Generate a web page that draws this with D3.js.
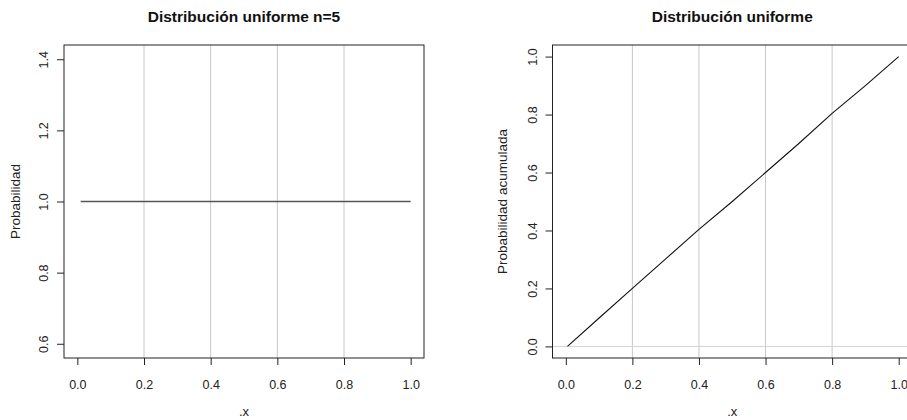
<!DOCTYPE html>
<html>
<head>
<meta charset="utf-8">
<script src="https://cdn.jsdelivr.net/npm/d3@7"></script>
<style>
  body { margin: 0; background: #fff; }
  svg { display: block; font-family: "Liberation Sans", Arial, Helvetica, sans-serif; }
</style>
</head>
<body>
<svg id="chart" width="907" height="420"></svg>
<script>
// Density of a uniform distribution on [0, 1]
const densityX = [0.01, 1.0];
const densityY = [1.0, 1.0];

// Cumulative probability of the same uniform distribution
const cdfX = [0.005, 0.1, 0.2, 0.3, 0.4, 0.5, 0.6, 0.7, 0.8, 0.9, 1.0];
const cdfY = [0.0, 0.098, 0.2, 0.302, 0.404, 0.5, 0.6, 0.7, 0.804, 0.9, 1.0];

const xTicks = [0, 0.2, 0.4, 0.6, 0.8, 1.0];
const xGrid = [0.2, 0.4, 0.6, 0.8];
const densityTicks = [0.6, 0.8, 1.0, 1.2, 1.4];
const cdfTicks = [0.0, 0.2, 0.4, 0.6, 0.8, 1.0];
const cdfGridY = [0.0];

const titles = ["Distribución uniforme n=5", "Distribución uniforme"];
const yLabels = ["Probabilidad", "Probabilidad acumulada"];
const xLabel = ".x";

const svg = d3.select("#chart");
const fmt = d3.format(".1f");

function panel(opts) {
  const { left, right, top, bottom, xDom, yDom, yTicks, gridX, gridY,
          xs, ys, lineColor, lineWidth, title, yLabel, yLabelX } = opts;
  const x = d3.scaleLinear().domain(xDom).range([left, right]);
  const y = d3.scaleLinear().domain(yDom).range([bottom, top]);
  const g = svg.append("g");

  // grid lines
  g.selectAll(".gx").data(gridX).join("line")
    .attr("x1", d => x(d)).attr("x2", d => x(d))
    .attr("y1", top).attr("y2", bottom)
    .attr("stroke", "#c8c8c8").attr("stroke-width", 1);
  g.selectAll(".gy").data(gridY).join("line")
    .attr("x1", left).attr("x2", right)
    .attr("y1", d => y(d)).attr("y2", d => y(d))
    .attr("stroke", "#d3d3d3").attr("stroke-width", 1);

  // data line
  const pts = xs.map((v, i) => [v, ys[i]]);
  g.append("path")
    .datum(pts)
    .attr("fill", "none")
    .attr("stroke", lineColor)
    .attr("stroke-width", lineWidth)
    .attr("d", d3.line().x(d => x(d[0])).y(d => y(d[1])));

  // plot frame
  g.append("rect")
    .attr("x", left).attr("y", top)
    .attr("width", right - left).attr("height", bottom - top)
    .attr("fill", "none").attr("stroke", "#222").attr("stroke-width", 1);

  // bottom axis
  const xa = g.append("g").attr("transform", `translate(0,${bottom})`)
    .call(d3.axisBottom(x).tickValues(xTicks).tickFormat(fmt).tickSize(7));
  xa.select(".domain").remove();
  xa.selectAll(".tick line").attr("stroke", "#222");
  xa.selectAll(".tick text")
    .attr("y", 31).attr("dy", null)
    .attr("font-size", 12.5).attr("fill", "#222");

  // left axis with rotated labels
  const ya = g.append("g").attr("transform", `translate(${left},0)`)
    .call(d3.axisLeft(y).tickValues(yTicks).tickFormat(fmt).tickSize(7));
  ya.select(".domain").remove();
  ya.selectAll(".tick line").attr("stroke", "#222");
  ya.selectAll(".tick text")
    .attr("x", 0).attr("dy", null)
    .attr("text-anchor", "middle")
    .attr("font-size", 12.5).attr("fill", "#222")
    .attr("transform", "translate(-16,0) rotate(-90)");

  // titles and axis labels
  const cx = (left + right) / 2;
  g.append("text").attr("x", cx).attr("y", 22)
    .attr("text-anchor", "middle").attr("font-weight", "bold")
    .attr("font-size", 15.5).attr("fill", "#111").text(title);
  g.append("text").attr("x", cx).attr("y", 416)
    .attr("text-anchor", "middle").attr("font-size", 13).attr("fill", "#222").text(xLabel);
  g.append("text")
    .attr("transform", `translate(${yLabelX},${(top + bottom) / 2}) rotate(-90)`)
    .attr("text-anchor", "middle").attr("font-size", 13.5).attr("fill", "#222").text(yLabel);
}

panel({
  left: 64, right: 424, top: 45, bottom: 358,
  xDom: [-0.04, 1.04], yDom: [0.56, 1.44], yTicks: densityTicks,
  gridX: xGrid, gridY: [], xs: densityX, ys: densityY,
  lineColor: "#555", lineWidth: 1.4,
  title: titles[0], yLabel: yLabels[0], yLabelX: 20
});

panel({
  left: 552.5, right: 912, top: 45, bottom: 358,
  xDom: [-0.04, 1.04], yDom: [-0.04, 1.04], yTicks: cdfTicks,
  gridX: xGrid, gridY: cdfGridY, xs: cdfX, ys: cdfY,
  lineColor: "#111", lineWidth: 1.1,
  title: titles[1], yLabel: yLabels[1], yLabelX: 507
});
</script>
</body>
</html>
